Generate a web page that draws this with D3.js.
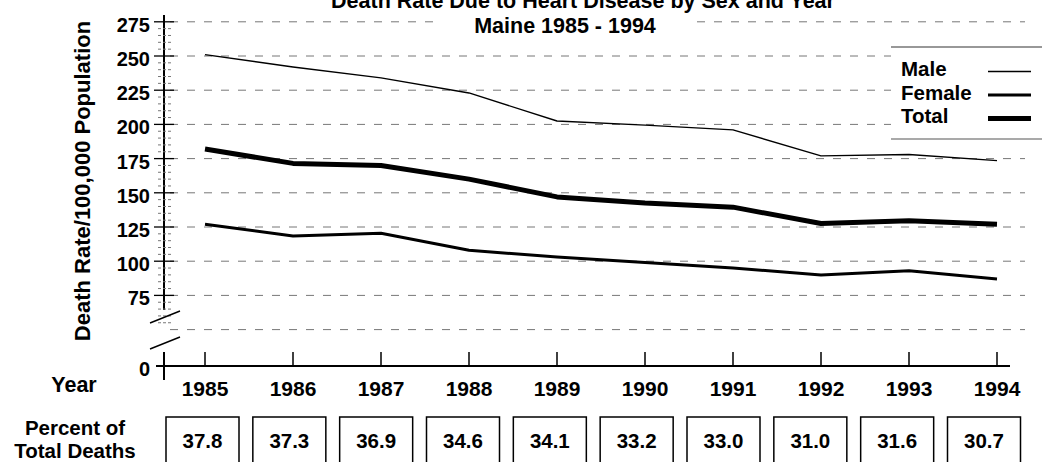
<!DOCTYPE html>
<html>
<head>
<meta charset="utf-8">
<script src="https://cdn.jsdelivr.net/npm/d3@7"></script>
<style>
  body { margin: 0; background: #fff; }
  svg { display: block; font-family: "Liberation Sans", Arial, sans-serif; }
  .bold { font-weight: bold; }
</style>
</head>
<body>
<div id="chart"></div>
<script>
// Values
var years = [1985, 1986, 1987, 1988, 1989, 1990, 1991, 1992, 1993, 1994];
var male = [251, 242, 234, 223, 202.5, 199.5, 196, 177, 178, 173.5];
var female = [127, 118.5, 120.5, 108, 103, 99, 95, 90, 93, 87];
var total = [182, 171.5, 170, 160, 147, 142.5, 139.5, 127.5, 129.5, 127];
var percent = ["37.8", "37.3", "36.9", "34.6", "34.1", "33.2", "33.0", "31.0", "31.6", "30.7"];
var yTicks = [75, 100, 125, 150, 175, 200, 225, 250, 275];
var gridTicks = [50, 75, 100, 125, 150, 175, 200, 225, 250, 275];

var width = 1042, height = 462;
var svg = d3.select("#chart").append("svg")
    .attr("width", width).attr("height", height);

var axisX = 164, zeroY = 366;

var x = d3.scalePoint().domain(years).range([205, 997]);
var boxX = d3.scalePoint().domain(years).range([202.5, 984]);
var y = d3.scaleLinear().domain([50, 275]).range([329.6, 21.8]);

// dashed gridlines
svg.append("g").selectAll("line")
    .data(gridTicks)
    .enter().append("line")
    .attr("x1", 170).attr("x2", 1025)
    .attr("y1", function(d) { return y(d); })
    .attr("y2", function(d) { return y(d); })
    .attr("stroke", "#777")
    .attr("stroke-width", 1)
    .attr("stroke-dasharray", "8,9");

// title (white behind second line cuts the gridline)
var t2 = svg.append("text").attr("class", "bold")
    .attr("x", 565).attr("y", 33)
    .attr("text-anchor", "middle")
    .style("font-size", "21.5px")
    .text("Maine 1985 - 1994");
var bb = t2.node().getBBox();
svg.insert("rect", "text")
    .attr("x", bb.x - 40).attr("y", bb.y - 1)
    .attr("width", bb.width + 80).attr("height", bb.height)
    .attr("fill", "#fff");
svg.append("text").attr("class", "bold")
    .attr("x", 583).attr("y", 8)
    .attr("text-anchor", "middle")
    .style("font-size", "21.5px")
    .text("Death Rate Due to Heart Disease by Sex and Year");

// y axis upper segment
svg.append("line")
    .attr("x1", axisX).attr("x2", axisX)
    .attr("y1", 15).attr("y2", 310)
    .attr("stroke", "#000").attr("stroke-width", 2);

// minor ticks every 5
var minor = d3.range(55, 276, 5).filter(function(d) { return d % 25 !== 0; });
svg.append("g").selectAll("line")
    .data(minor)
    .enter().append("line")
    .attr("x1", 158).attr("x2", 172)
    .attr("y1", function(d) { return y(d); })
    .attr("y2", function(d) { return y(d); })
    .attr("stroke", "#777").attr("stroke-width", 1)
    .attr("stroke-dasharray", "3,2");

// major ticks + labels
var yg = svg.append("g");
yg.selectAll("line")
    .data(yTicks)
    .enter().append("line")
    .attr("x1", 154).attr("x2", 174)
    .attr("y1", function(d) { return y(d); })
    .attr("y2", function(d) { return y(d); })
    .attr("stroke", "#000").attr("stroke-width", 1.3);
yg.selectAll("text")
    .data(yTicks)
    .enter().append("text")
    .attr("class", "bold")
    .attr("x", 150)
    .attr("y", function(d) { return y(d); })
    .attr("dy", "0.5em")
    .attr("text-anchor", "end")
    .style("font-size", "20px")
    .text(function(d) { return d; });

// axis break marks
svg.append("line").attr("x1", 150).attr("y1", 323).attr("x2", 180).attr("y2", 311)
    .attr("stroke", "#000").attr("stroke-width", 1.5);
svg.append("line").attr("x1", 150).attr("y1", 349).attr("x2", 180).attr("y2", 337)
    .attr("stroke", "#000").attr("stroke-width", 1.5);

// y axis lower segment and zero
svg.append("line")
    .attr("x1", axisX).attr("x2", axisX)
    .attr("y1", 352).attr("y2", 380)
    .attr("stroke", "#000").attr("stroke-width", 2);
svg.append("line")
    .attr("x1", 156).attr("x2", 1010)
    .attr("y1", zeroY).attr("y2", zeroY)
    .attr("stroke", "#000").attr("stroke-width", 2);
svg.append("text").attr("class", "bold")
    .attr("x", 150).attr("y", zeroY)
    .attr("dy", "0.5em")
    .attr("text-anchor", "end")
    .style("font-size", "20px")
    .text("0");

// x ticks + year labels
var xg = svg.append("g");
xg.selectAll("line")
    .data(years)
    .enter().append("line")
    .attr("x1", function(d) { return x(d); })
    .attr("x2", function(d) { return x(d); })
    .attr("y1", 352).attr("y2", zeroY)
    .attr("stroke", "#000").attr("stroke-width", 1.5);
xg.selectAll("text")
    .data(years)
    .enter().append("text")
    .attr("class", "bold")
    .attr("x", function(d) { return x(d); })
    .attr("y", 396)
    .attr("text-anchor", "middle")
    .style("font-size", "21px")
    .text(function(d) { return d; });

// y axis title
svg.append("text").attr("class", "bold")
    .attr("transform", "translate(90,181) rotate(-90)")
    .attr("text-anchor", "middle")
    .style("font-size", "22px")
    .text("Death Rate/100,000 Population");

// Year / Percent labels
svg.append("text").attr("class", "bold")
    .attr("x", 74).attr("y", 392)
    .attr("text-anchor", "middle")
    .style("font-size", "21.5px")
    .text("Year");
svg.append("text").attr("class", "bold")
    .attr("x", 75).attr("y", 434.5)
    .attr("text-anchor", "middle")
    .style("font-size", "20.5px")
    .text("Percent of");
svg.append("text").attr("class", "bold")
    .attr("x", 75).attr("y", 457.5)
    .attr("text-anchor", "middle")
    .style("font-size", "20.5px")
    .text("Total Deaths");

// percent boxes
var boxes = svg.append("g").selectAll("g")
    .data(years)
    .enter().append("g");
boxes.append("rect")
    .attr("x", function(d) { return boxX(d) - 36.5; })
    .attr("y", 417)
    .attr("width", 73).attr("height", 60)
    .attr("fill", "#fff")
    .attr("stroke", "#000").attr("stroke-width", 1.5);
boxes.append("text")
    .attr("class", "bold")
    .attr("x", function(d) { return boxX(d); })
    .attr("y", 448)
    .attr("text-anchor", "middle")
    .style("font-size", "20.5px")
    .text(function(d, i) { return percent[i]; });

// series lines
var series = [
    { name: "Male", values: male, w: 1.4 },
    { name: "Female", values: female, w: 3 },
    { name: "Total", values: total, w: 5 }
];
var line = d3.line()
    .x(function(d, i) { return x(years[i]); })
    .y(function(d) { return y(d); });
svg.append("g").selectAll("path")
    .data(series)
    .enter().append("path")
    .attr("fill", "none")
    .attr("stroke", "#000")
    .attr("stroke-width", function(d) { return d.w; })
    .attr("stroke-linejoin", "round")
    .attr("d", function(d) { return line(d.values); });

// legend
var legend = svg.append("g");
legend.append("rect")
    .attr("x", 891).attr("y", 47)
    .attr("width", 151).attr("height", 92)
    .attr("fill", "#fff");
legend.append("line").attr("x1", 891).attr("x2", 1042).attr("y1", 47).attr("y2", 47)
    .attr("stroke", "#333").attr("stroke-width", 1.2);
legend.append("line").attr("x1", 891).attr("x2", 1042).attr("y1", 139).attr("y2", 139)
    .attr("stroke", "#555").attr("stroke-width", 1.2);
var li = legend.selectAll("g.item")
    .data(series)
    .enter().append("g").attr("class", "item");
li.append("text")
    .attr("class", "bold")
    .attr("x", 901)
    .attr("y", function(d, i) { return 76 + i * 23.5; })
    .style("font-size", "20.5px")
    .text(function(d) { return d.name; });
li.append("line")
    .attr("x1", 988).attr("x2", 1031)
    .attr("y1", function(d, i) { return 71.5 + i * 23.5; })
    .attr("y2", function(d, i) { return 71.5 + i * 23.5; })
    .attr("stroke", "#000")
    .attr("stroke-width", function(d) { return d.w; });
</script>
</body>
</html>
